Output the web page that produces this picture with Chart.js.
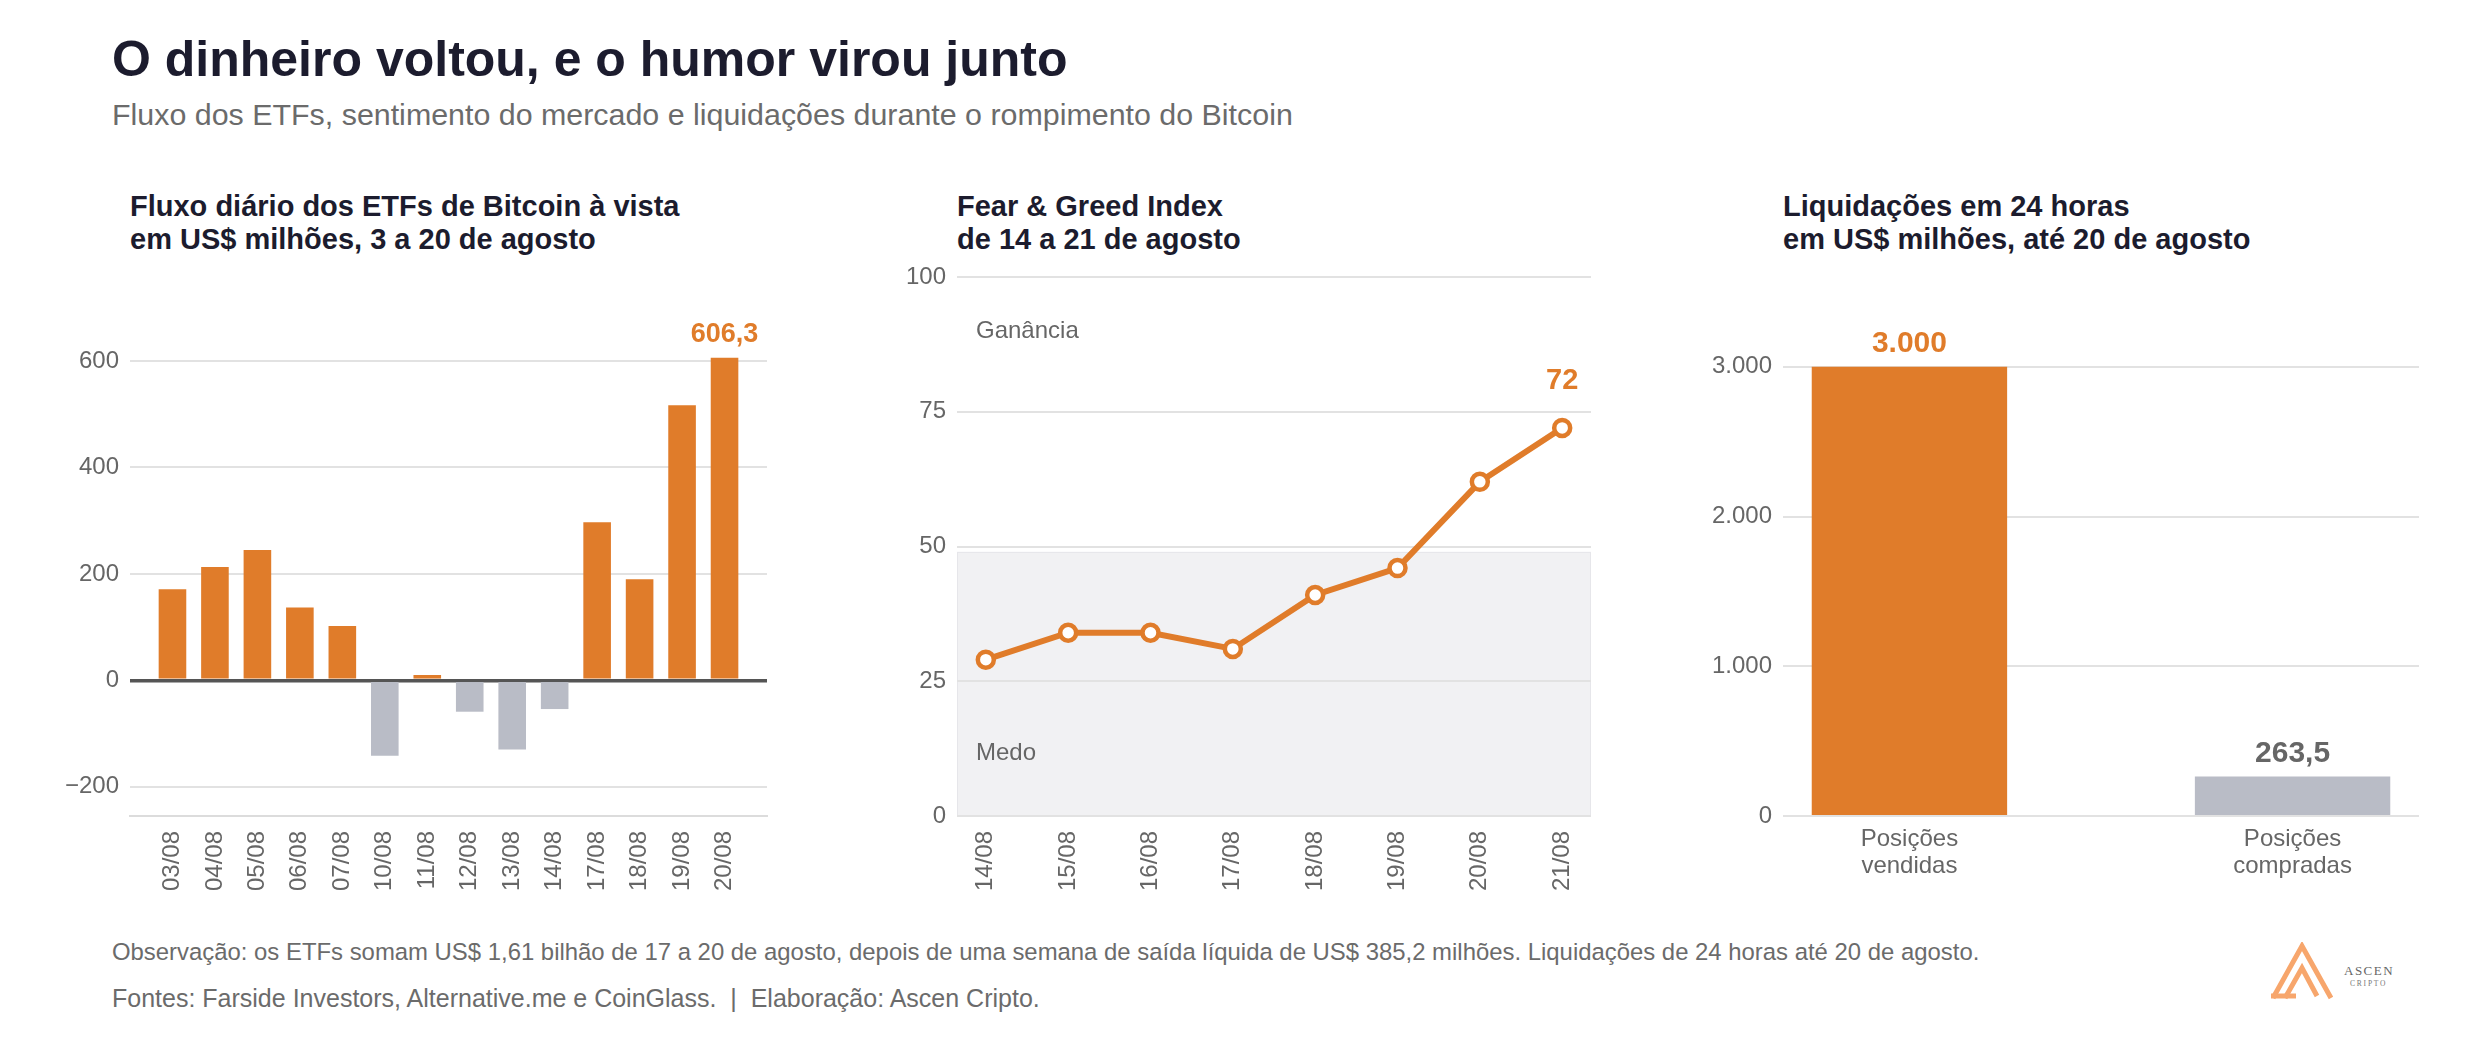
<!DOCTYPE html>
<html lang="pt-BR">
<head>
<meta charset="utf-8">
<script src="https://cdn.jsdelivr.net/npm/chart.js@4.4.1/dist/chart.umd.min.js"></script>
<style>
  body { margin: 0; width: 2480px; height: 1040px; background: #fff; position: relative; overflow: hidden;
         font-family: "Liberation Sans", Arial, sans-serif; }
  .t { position: absolute; white-space: nowrap; line-height: 1; }
  .title { left: 112px; top: 34px; font-size: 50px; font-weight: bold; color: #1c1c2e; }
  .sub { left: 112px; top: 99px; font-size: 30.4px; color: #6b6b6b; }
  .ptitle { top: 190px; font-size: 29px; font-weight: bold; color: #1c1c2e; line-height: 33px; }
  .foot { left: 112px; font-size: 25px; color: #6b6b6b; }
  canvas { position: absolute; }
  #c1 { left: 40px; top: 240px; }
  #c2 { left: 870px; top: 240px; }
  #c3 { left: 1690px; top: 240px; }
  #logo { position: absolute; left: 2270px; top: 942px; }
</style>
</head>
<body>
<div class="t title">O dinheiro voltou, e o humor virou junto</div>
<div class="t sub">Fluxo dos ETFs, sentimento do mercado e liquidações durante o rompimento do Bitcoin</div>

<div class="t ptitle" style="left:130px">Fluxo diário dos ETFs de Bitcoin à vista<br>em US$ milhões, 3 a 20 de agosto</div>
<div class="t ptitle" style="left:957px">Fear &amp; Greed Index<br>de 14 a 21 de agosto</div>
<div class="t ptitle" style="left:1783px">Liquidações em 24 horas<br>em US$ milhões, até 20 de agosto</div>

<canvas id="c1" width="760" height="660" style="width:760px;height:660px"></canvas>
<canvas id="c2" width="760" height="660" style="width:760px;height:660px"></canvas>
<canvas id="c3" width="760" height="660" style="width:760px;height:660px"></canvas>

<div class="t foot" style="top:940px;font-size:23.9px">Observação: os ETFs somam US$ 1,61 bilhão de 17 a 20 de agosto, depois de uma semana de saída líquida de US$ 385,2 milhões. Liquidações de 24 horas até 20 de agosto.</div>
<div class="t foot" style="top:986px">Fontes: Farside Investors, Alternative.me e CoinGlass.&nbsp; |&nbsp; Elaboração: Ascen Cripto.</div>

<svg id="logo" width="140" height="60" viewBox="0 0 140 60">
  <g fill="none" stroke="#f7a66c" stroke-width="5" stroke-linejoin="miter">
    <path d="M3,56 L32,4 L61,56"/>
    <path d="M15,56 L32,26 L47,54"/>
    <path d="M1,54 L26,54"/>
  </g>
  <text x="74" y="33" font-family="Liberation Serif, serif" font-size="13" fill="#666" letter-spacing="1.5">ASCEN</text>
  <text x="80" y="44" font-family="Liberation Serif, serif" font-size="7.5" fill="#777" letter-spacing="1.8">CRIPTO</text>
</svg>

<script>
// dados
const etf_dates = ["03/08", "04/08", "05/08", "06/08", "07/08", "10/08", "11/08",
                   "12/08", "13/08", "14/08", "17/08", "18/08", "19/08", "20/08"];
const etf_flows = [171, 213, 245, 137, 102, -142, 10, -59, -130, -54, 297, 190, 517, 606.3];
const etf_ticks = [-200, 0, 200, 400, 600];

const fg_dates = ["14/08", "15/08", "16/08", "17/08", "18/08", "19/08", "20/08", "21/08"];
const fg_values = [29, 34, 34, 31, 41, 46, 62, 72];
const fg_ticks = [0, 25, 50, 75, 100];
const fear_zone = [0, 49];

const liq_labels = [["Posições", "vendidas"], ["Posições", "compradas"]];
const liq_values = [3000, 263.5];
const liq_ticks = [0, 1000, 2000, 3000];

const ORANGE = "#e07c2a";
const GREY_BAR = "#b9bcc6";
const TEXT_GREY = "#666666";
const GRID = "#e2e2e2";

Chart.defaults.font.family = '"Liberation Sans", Arial, sans-serif';
Chart.defaults.color = TEXT_GREY;

function fmt(v) {
    return v.toLocaleString("pt-BR").replace("-", "\u2212");
}

function y_axis(min, max, ticks, width, zero_dark) {
    return {
        min: min,
        max: max,
        afterBuildTicks: (s) => { s.ticks = ticks.map(v => ({ value: v })); },
        afterFit: (s) => { s.width = width; },
        border: { display: false },
        grid: {
            drawTicks: false,
            color: (ctx) => (zero_dark && ctx.tick && ctx.tick.value === 0) ? "#555555" : GRID,
            lineWidth: (ctx) => (zero_dark && ctx.tick && ctx.tick.value === 0) ? 3.5 : 2
        },
        ticks: { padding: 11, color: TEXT_GREY, font: { size: 24 }, callback: (v) => fmt(v) }
    };
}

function x_axis(min, max, labels, rotated, border) {
    return {
        type: "linear",
        min: min,
        max: max,
        offset: false,
        afterBuildTicks: (s) => { s.ticks = labels.map((l, i) => ({ value: i })); },
        afterFit: (s) => { s.height = 84; },
        grid: { display: false },
        border: border ? { display: true, color: "#dcdcdc", width: 2 } : { display: false },
        ticks: {
            autoSkip: false,
            maxRotation: rotated ? 90 : 0,
            minRotation: rotated ? 90 : 0,
            padding: rotated ? 7 : 2,
            color: TEXT_GREY,
            font: { size: 24, lineHeight: 1.12 },
            callback: (v) => labels[v]
        }
    };
}

function value_label(ctx, text, x, y, color, size) {
    ctx.save();
    ctx.font = "bold " + size + 'px "Liberation Sans", Arial, sans-serif';
    ctx.fillStyle = color;
    ctx.textAlign = "center";
    ctx.textBaseline = "alphabetic";
    ctx.fillText(text, x, y);
    ctx.restore();
}

const common = {
    responsive: false,
    animation: false,
    devicePixelRatio: 1,
    plugins: { legend: { display: false }, tooltip: { enabled: false } }
};

// 1) fluxo dos ETFs
new Chart(document.getElementById("c1"), {
    type: "bar",
    data: {
        datasets: [{
            data: etf_flows.map((v, i) => ({ x: i, y: v })),
            backgroundColor: etf_flows.map(v => v >= 0 ? ORANGE : GREY_BAR),
            categoryPercentage: 1,
            barPercentage: 0.65
        }]
    },
    options: Object.assign({}, common, {
        layout: { padding: { top: 37, right: 33, left: 0, bottom: 0 } },
        scales: {
            x: x_axis(-1, 14, etf_dates, true, true),
            y: y_axis(-255, 758, etf_ticks, 90, true)
        }
    }),
    plugins: [{
        id: "last_label",
        afterDatasetsDraw(chart) {
            const bar = chart.getDatasetMeta(0).data[etf_flows.length - 1];
            value_label(chart.ctx, fmt(etf_flows[etf_flows.length - 1]), bar.x, bar.y - 16, ORANGE, 27);
        }
    }]
});

// 2) Fear & Greed
new Chart(document.getElementById("c2"), {
    type: "line",
    data: {
        datasets: [{
            data: fg_values.map((v, i) => ({ x: i, y: v })),
            borderColor: ORANGE,
            borderWidth: 6,
            pointRadius: 8,
            pointBorderWidth: 4.5,
            pointBackgroundColor: "#ffffff",
            pointBorderColor: ORANGE,
            tension: 0
        }]
    },
    options: Object.assign({}, common, {
        layout: { padding: { top: 37, right: 39, left: 0, bottom: 0 } },
        scales: {
            x: x_axis(-0.35, 7.35, fg_dates, true, false),
            y: y_axis(0, 100, fg_ticks, 87, false)
        }
    }),
    plugins: [{
        id: "zones",
        beforeDraw(chart) {
            const { ctx, chartArea: a, scales } = chart;
            const top = scales.y.getPixelForValue(fear_zone[1]);
            const bottom = scales.y.getPixelForValue(fear_zone[0]);
            ctx.save();
            ctx.fillStyle = "#f1f1f3";
            ctx.fillRect(a.left, top, a.right - a.left, bottom - top);
            ctx.strokeStyle = "#e6e6ea";
            ctx.lineWidth = 1;
            ctx.strokeRect(a.left + 0.5, top + 0.5, a.right - a.left - 1, bottom - top - 1);
            ctx.restore();
        },
        afterDraw(chart) {
            const { ctx, chartArea: a, scales } = chart;
            ctx.save();
            ctx.font = '24px "Liberation Sans", Arial, sans-serif';
            ctx.fillStyle = TEXT_GREY;
            ctx.textBaseline = "middle";
            ctx.fillText("Ganância", a.left + 19, scales.y.getPixelForValue(90));
            ctx.fillText("Medo", a.left + 19, scales.y.getPixelForValue(11.7));
            ctx.restore();
        },
        afterDatasetsDraw(chart) {
            const pt = chart.getDatasetMeta(0).data[fg_values.length - 1];
            value_label(chart.ctx, fmt(fg_values[fg_values.length - 1]), pt.x, pt.y - 39, ORANGE, 29);
        }
    }]
});

// 3) liquidações
new Chart(document.getElementById("c3"), {
    type: "bar",
    data: {
        datasets: [{
            data: liq_values.map((v, i) => ({ x: i, y: v })),
            backgroundColor: [ORANGE, GREY_BAR],
            categoryPercentage: 1,
            barPercentage: 0.51
        }]
    },
    options: Object.assign({}, common, {
        layout: { padding: { top: 37, right: 31, left: 0, bottom: 0 } },
        scales: {
            x: x_axis(-0.33, 1.33, liq_labels, false, false),
            y: y_axis(0, 3600, liq_ticks, 93, false)
        }
    }),
    plugins: [{
        id: "bar_labels",
        afterDatasetsDraw(chart) {
            const bars = chart.getDatasetMeta(0).data;
            const colors = [ORANGE, TEXT_GREY];
            bars.forEach((b, i) => value_label(chart.ctx, fmt(liq_values[i]), b.x, b.y - 15, colors[i], 30));
        }
    }]
});
</script>
</body>
</html>
